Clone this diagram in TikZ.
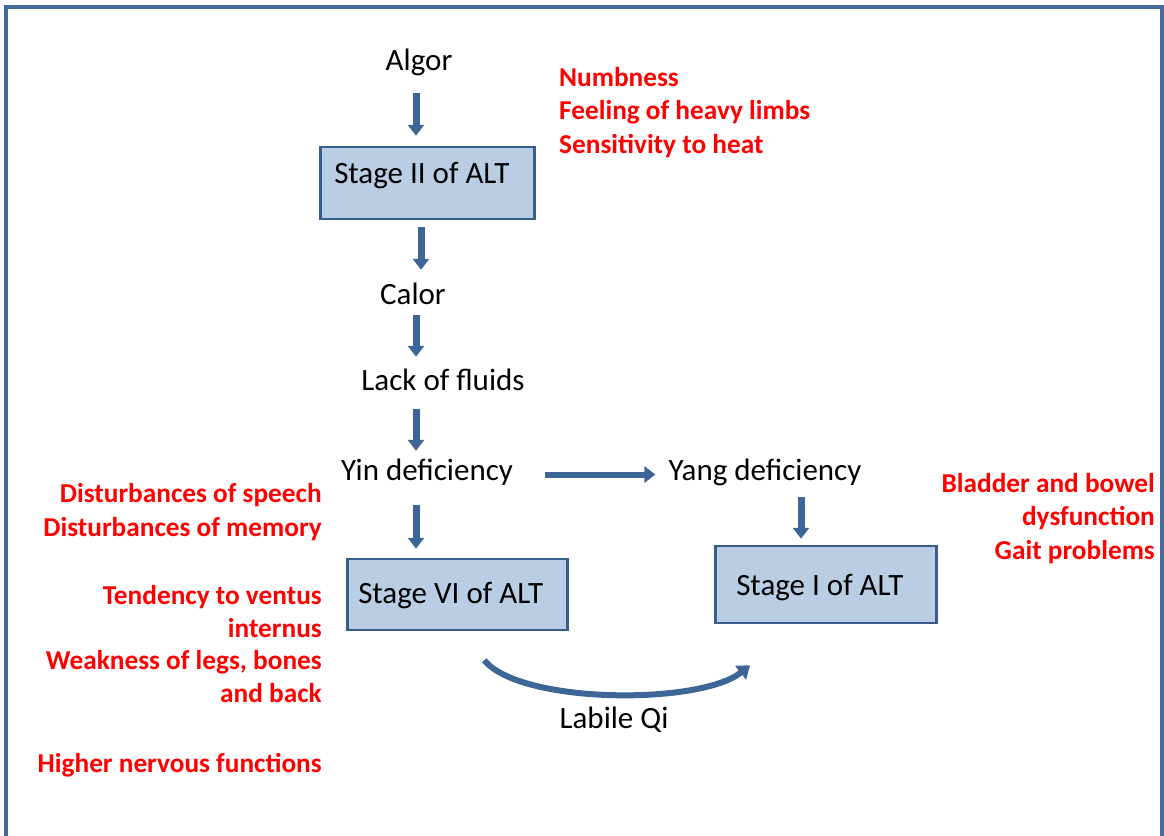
\documentclass[tikz,border=0pt]{standalone}
\usepackage{fontspec}
\setmainfont{Carlito}
\usetikzlibrary{arrows.meta}
\definecolor{arrblue}{RGB}{62,101,152}
\definecolor{boxfill}{RGB}{185,205,229}
\definecolor{boxline}{RGB}{56,93,138}
\definecolor{framec}{RGB}{70,105,155}
\definecolor{redtxt}{RGB}{255,0,0}
\begin{document}
\begin{tikzpicture}[x=1pt,y=-1pt,
  lbl/.style={inner sep=0pt, anchor=base, font=\fontsize{31}{37}\selectfont, text height=22pt, text depth=7pt},
  stagebox/.style={draw=boxline, fill=boxfill, line width=2.5pt, inner ysep=0pt, anchor=base west, font=\fontsize{31}{37}\selectfont},
  redblk/.style={inner sep=0pt, text=redtxt, font=\fontsize{27.3}{33.5}\selectfont\bfseries},
  arr/.style={draw=arrblue, line width=7pt, -{Triangle[width=16pt,length=11pt]}},
]
\path[use as bounding box] (0,0) rectangle (1164,835);
\draw[framec, line width=3.5pt] (6,845) -- (6,7) -- (1162,7) -- (1162,845);

\node[lbl] (algor) at (419,70) {Algor};
\node[stagebox, inner xsep=14pt, text height=36pt, text depth=36pt] (st2) at (319,183) {\makebox[186pt][l]{Stage II of ALT}};
\node[lbl] (calor) at (413,304) {Calor};
\node[lbl] (lack) at (443,390) {Lack of fluids};
\node[lbl] (yin) at (427,480) {Yin deficiency};
\node[lbl] (yang) at (765,480) {Yang deficiency};
\node[stagebox, inner xsep=11pt, text height=44pt, text depth=27pt] (st6) at (346,603) {\makebox[198pt][l]{Stage VI of ALT}};
\node[stagebox, inner xsep=21pt, text height=49pt, text depth=28pt] (st1) at (714,595) {\makebox[179pt][l]{Stage I of ALT}};
\node[lbl] (qi) at (614,728) {Labile Qi};

\node[redblk, align=left, anchor=base west] (sym1) at (559,153) {Numbness\\Feeling of heavy limbs\\Sensitivity to heat};
\node[redblk, align=right, anchor=base east] (sym2) at (322,536) {Disturbances of speech\\Disturbances of memory};
\node[redblk, align=right, anchor=base east, font=\fontsize{27.3}{32.5}\selectfont\bfseries] (sym3) at (322,702) {Tendency to ventus\\internus\\Weakness of legs, bones\\and back};
\node[redblk, anchor=base east] (sym4) at (322,772) {Higher nervous functions};
\node[redblk, align=right, anchor=base east] (sym5) at (1155,559) {Bladder and bowel\\dysfunction\\Gait problems};

\coordinate (cx1) at (416,0);
\coordinate (cx2) at (421,0);
\coordinate (cx3) at (801,0);
\draw[arr, shorten <=16pt, shorten >=10pt] (algor.south -| cx1) -- (st2.north -| cx1);
\draw[arr, shorten <=7pt, shorten >=12pt] (st2.south -| cx2) -- (calor.north -| cx2);
\draw[arr, shorten <=4pt, shorten >=11pt] (calor.south -| cx1) -- (lack.north -| cx1);
\draw[arr, shorten <=12pt, shorten >=7pt] (lack.south -| cx1) -- (yin.north -| cx1);
\draw[arr, shorten <=18pt, shorten >=9pt] (yin.south -| cx1) -- (st6.north -| cx1);
\draw[arr, shorten <=10pt, shorten >=6pt] (yang.south -| cx3) -- (st1.north -| cx3);
\draw[arr, line width=6pt, shorten <=32pt, shorten >=13pt] ([yshift=-2pt]yin.east) -- ([yshift=-2pt]yang.west);

\coordinate (q1) at ([xshift=27pt,yshift=-29pt]st6.south);
\coordinate (q2) at ([xshift=36pt,yshift=-41pt]st1.south west);
\draw[draw=arrblue, line width=6pt, -{Triangle[width=17pt,length=12pt]}] (q1) .. controls +(36,44) and +(-50,40) .. (q2);
\end{tikzpicture}
\end{document}
